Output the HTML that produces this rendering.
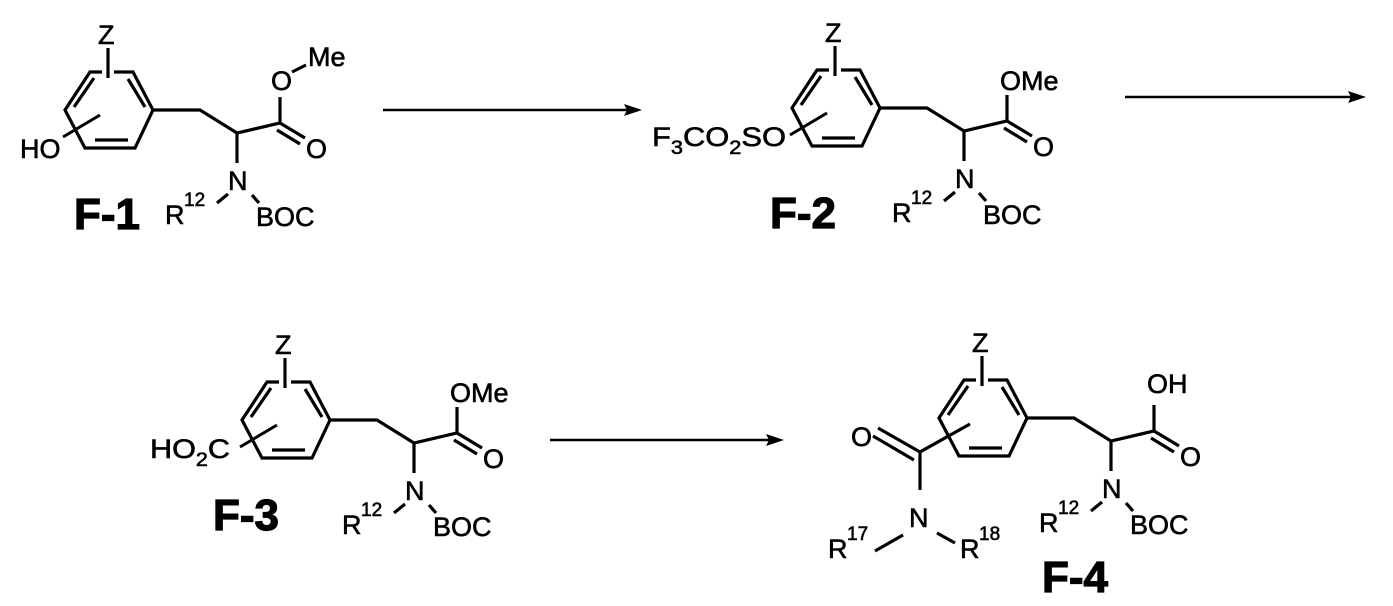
<!DOCTYPE html>
<html><head><meta charset="utf-8"><style>
html,body{margin:0;padding:0;background:#fff;}
svg{display:block;}
text{font-family:"Liberation Sans",Arial,sans-serif;fill:#000;stroke:#000;stroke-width:0.6;}
.l{font-size:27px;}
.s{font-size:19px;}
.b{font-size:44px;font-weight:bold;stroke-width:1.2;}
</style></head><body>
<svg width="1393" height="606" viewBox="0 0 1393 606" xmlns="http://www.w3.org/2000/svg">
<defs>
<g id="core" stroke="#000" stroke-width="3.2" fill="none" stroke-linejoin="miter">
  <path d="M102,72 L90,72 L65,110 L85,148 L135,148 L153,110 L133,72 L114,72"/>
  <path d="M74,107 L94,78 M128,79 L145,107 M95,140 L128,140"/>
  <path d="M108,48 L108,78"/>
  <path d="M153,110 L200,110 L237,133 L280,123 L305,138 M277,130 L300,144 M280,123 L280,97"/>
  <path d="M237,133 L237,163 M217,203 L228,194 M252,195 L259,203"/>
</g>
<g id="lab">
  <text class="l" x="98" y="44">Z</text>
  <text class="l" x="228" y="190">N</text>
  <text class="l" x="165" y="224">R</text><text class="s" x="184" y="206">12</text>
  <text class="l" x="256" y="226">BOC</text>
  <text class="l" x="306" y="158">O</text>
</g>
</defs>

<!-- F-1 -->
<use href="#core"/><use href="#lab"/>
<path d="M63,137 L100,115 M292,72 L306,65" stroke="#000" stroke-width="3" fill="none"/>
<text class="l" x="20" y="158">HO</text>
<text class="l" x="271" y="90">O</text>
<text class="l" x="308" y="66">Me</text>
<text class="b" x="74" y="229">F-1</text>

<!-- arrow 1 -->
<path d="M383,110 L628,110" stroke="#000" stroke-width="2.5"/>
<path d="M642,110 L624,104 L627,110 L624,116 Z" fill="#000"/>

<!-- F-2 -->
<g transform="translate(727,-2)"><use href="#core"/><use href="#lab"/>
<path d="M63,137 L100,115" stroke="#000" stroke-width="3"/>
<text class="l" x="273" y="92">OMe</text>
<text class="b" x="43" y="230">F-2</text></g>
<text class="l" x="652" y="146" textLength="134" lengthAdjust="spacingAndGlyphs">F<tspan class="s" dy="8">3</tspan><tspan dy="-8">CO</tspan><tspan class="s" dy="8">2</tspan><tspan dy="-8">SO</tspan></text>

<!-- arrow 2 -->
<path d="M1125,97 L1352,97" stroke="#000" stroke-width="2.5"/>
<path d="M1366,97 L1348,91 L1351,97 L1348,103 Z" fill="#000"/>

<!-- F-3 -->
<g transform="translate(177,310)"><use href="#core"/><use href="#lab"/>
<path d="M63,137 L100,115" stroke="#000" stroke-width="3"/>
<text class="l" x="273" y="92">OMe</text>
<text class="b" x="36" y="220">F-3</text></g>
<text class="l" x="150" y="458" textLength="80" lengthAdjust="spacingAndGlyphs">HO<tspan class="s" dy="8">2</tspan><tspan dy="-8">C</tspan></text>

<!-- arrow 3 -->
<path d="M550,440 L770,440" stroke="#000" stroke-width="2.5"/>
<path d="M784,440 L766,434 L769,440 L766,446 Z" fill="#000"/>

<!-- F-4 -->
<g transform="translate(874,308)"><use href="#core"/><use href="#lab"/>
<text class="b" x="168" y="284">F-4</text></g>
<text class="l" x="1147" y="393">OH</text>
<path d="M970,424 L920,452 L920,490 M920,452 L878,428 M914,460 L873,436 M903,535 L875,551 M937,533 L955,543" stroke="#000" stroke-width="3.2" fill="none"/>
<text class="l" x="851" y="446">O</text>
<text class="l" x="909" y="527">N</text>
<text class="l" x="828" y="558">R</text><text class="s" x="847" y="540">17</text>
<text class="l" x="960" y="558">R</text><text class="s" x="979" y="540">18</text>
</svg>
</body></html>
